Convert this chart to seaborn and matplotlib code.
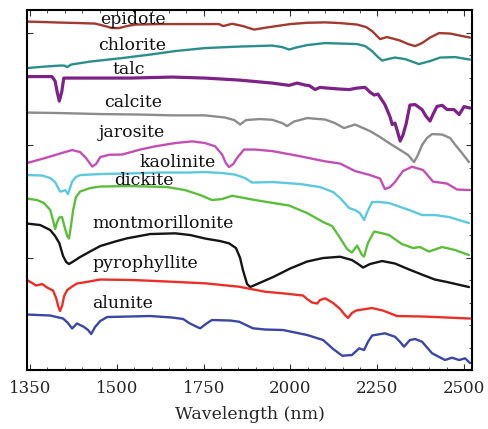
import matplotlib
matplotlib.use("Agg")
import matplotlib.pyplot as plt
import seaborn as sns
import pandas as pd
from matplotlib.ticker import MultipleLocator, FixedLocator

# ---------------- data (wavelength in nm, offset reflectance in arbitrary units) ----------------
epidote_wl = [1241, 1293, 1336, 1394, 1437, 1466, 1486, 1506, 1529, 1552, 1624, 1740, 1794, 1806, 1832,
              1863, 1895, 1921, 1950, 1999, 2048, 2100, 2143, 2192, 2218, 2235, 2258, 2278, 2295, 2316,
              2339, 2359, 2379, 2402, 2428, 2460, 2488, 2517]
epidote_r = [348.5, 348, 347.5, 347, 346.5, 344, 342, 342, 344, 345.5, 346, 346, 346, 344, 346.3,
             344, 340.5, 342, 343.5, 346, 347.3, 347.7, 347, 345.5, 343, 339, 331, 333, 331.5, 329.5,
             326, 324, 327, 332.5, 337, 336.5, 334.5, 332.5]

chlorite_wl = [1241, 1293, 1336, 1348, 1357, 1368, 1423, 1515, 1596, 1668, 1754, 1852, 1947, 1976, 1996,
               2016, 2048, 2100, 2192, 2215, 2235, 2252, 2264, 2281, 2301, 2330, 2370, 2402, 2431, 2474, 2517]
chlorite_r = [302, 303.5, 304.5, 304.5, 303, 305.5, 308.5, 312, 315.5, 319, 322, 323.5, 324.5, 323, 320.5,
              322.5, 325, 327, 326, 324, 319, 313, 309.5, 311, 312.5, 311, 306, 309, 312.5, 313, 310.5]

talc_wl = [1241, 1293, 1313, 1322, 1328, 1334, 1341, 1347, 1420, 1538, 1659, 1754, 1852, 1947, 1996,
           2019, 2042, 2054, 2071, 2085, 2105, 2143, 2169, 2192, 2215, 2229, 2241, 2252, 2272, 2287,
           2293, 2301, 2307, 2316, 2324, 2333, 2344, 2359, 2379, 2390, 2402, 2411, 2422, 2437, 2451,
           2471, 2486, 2500, 2517]
talc_r = [293.5, 293.5, 293.5, 289, 278, 269, 278, 292, 292, 292, 293, 292, 290, 287, 284.7,
          287, 285, 284.5, 280.5, 282.7, 282, 281, 280.5, 282, 282.7, 278, 275, 276, 265.5, 253,
          245.5, 247, 240, 229, 235, 246, 265, 265.5, 260.5, 254, 249, 256, 263.7, 264.7, 260.5,
          260.5, 255.5, 263.5, 262]

calcite_wl = [1241, 1336, 1452, 1567, 1659, 1754, 1812, 1838, 1855, 1872, 1912, 1947, 1976, 1990, 2010,
              2048, 2100, 2128, 2154, 2186, 2229, 2258, 2284, 2321, 2339, 2356, 2367, 2379, 2393, 2408,
              2437, 2460, 2474, 2494, 2514]
calcite_r = [257.5, 257, 256, 255.5, 254.7, 254.7, 252.5, 250, 245.5, 250, 251, 250.3, 247, 244, 248.5,
             252, 250.5, 247, 242, 245.5, 239, 233, 227, 219, 215, 208, 215, 225, 232, 236,
             235.5, 232, 225.5, 217, 208]

jarosite_wl = [1241, 1293, 1336, 1371, 1394, 1411, 1429, 1440, 1452, 1478, 1515, 1567, 1610, 1668, 1717,
               1754, 1783, 1803, 1814, 1823, 1835, 1846, 1866, 1898, 1947, 2025, 2100, 2143, 2186, 2229,
               2258, 2272, 2287, 2301, 2324, 2350, 2382, 2411, 2431, 2451, 2480, 2517]
jarosite_r = [207, 212, 216.5, 220, 218, 212, 203.5, 206, 213, 215.3, 215.5, 220.5, 223.7, 227, 228.7,
              227, 223.7, 215.5, 207, 203, 206, 212, 220.5, 220.5, 219, 214, 208.7, 206.5, 199, 195,
              191.5, 181, 183, 188, 199, 203.3, 200, 188.3, 187.5, 186.5, 180.5, 180]

kaolinite_wl = [1241, 1285, 1308, 1322, 1331, 1336, 1345, 1351, 1359, 1365, 1371, 1382, 1394, 1452, 1547,
                1624, 1702, 1754, 1803, 1840, 1869, 1889, 1950, 2028, 2085, 2123, 2143, 2169, 2186, 2200,
                2212, 2221, 2235, 2258, 2284, 2342, 2379, 2416, 2457, 2514]
kaolinite_r = [195, 194.5, 192, 188, 182, 178.5, 179, 180, 176, 182, 188.5, 193, 195, 196, 196.7,
               197.5, 197.5, 198, 197, 195.5, 192, 187.5, 188, 186, 183, 178, 172, 162, 160, 157,
               150, 158, 168, 168, 167, 160, 155, 155, 153, 147]

dickite_wl = [1241, 1270, 1290, 1308, 1316, 1322, 1328, 1334, 1342, 1351, 1357, 1362, 1368, 1374, 1382,
              1394, 1423, 1452, 1538, 1645, 1696, 1740, 1774, 1803, 1832, 1898, 1996, 2048, 2094, 2120,
              2143, 2163, 2177, 2192, 2206, 2212, 2223, 2241, 2261, 2284, 2321, 2353, 2373, 2399, 2437,
              2474, 2514]
dickite_r = [171.5, 170, 167, 160, 150, 141, 148, 152.5, 153, 141, 134, 131.5, 145, 160, 173,
             178.5, 182, 183.5, 184, 183, 180, 175, 170, 171, 174.3, 170, 164.5, 157, 148, 144,
             132, 121, 117.5, 124.5, 115, 113.5, 127, 138.5, 137, 135, 126, 122, 123, 118.5, 123,
             120, 115]

montmorillonite_wl = [1241, 1279, 1308, 1322, 1334, 1345, 1354, 1362, 1374, 1394, 1420, 1452, 1495, 1529,
                      1596, 1668, 1711, 1754, 1797, 1823, 1843, 1855, 1863, 1875, 1884, 1904, 1950, 1999,
                      2048, 2094, 2143, 2177, 2195, 2209, 2229, 2264, 2301, 2342, 2382, 2416, 2451, 2514]
montmorillonite_r = [146.5, 145, 140, 134, 127, 114, 108, 106, 108.5, 113, 118, 124, 128.5, 131.7,
                     136, 136.7, 135, 131.5, 129, 126.7, 122, 112, 100, 86, 83, 86, 93, 101.5,
                     108.5, 112, 113.3, 110, 106, 102.5, 106, 109, 106.5, 100.5, 95, 90.5, 88, 83]

pyrophyllite_wl = [1241, 1256, 1267, 1285, 1299, 1316, 1325, 1331, 1336, 1342, 1348, 1357, 1371, 1385, 1420,
                   1452, 1547, 1645, 1754, 1852, 1927, 1984, 2036, 2048, 2062, 2077, 2085, 2100, 2123, 2143,
                   2157, 2166, 2177, 2189, 2235, 2266, 2307, 2382, 2451, 2517]
pyrophyllite_r = [90, 87, 84.5, 86, 82.5, 79.5, 72, 64, 59, 64, 74, 80, 83.5, 86.5, 88.5,
                  90.5, 90, 88.5, 86.7, 83.3, 78.3, 76.5, 74.5, 71, 67.5, 66.5, 70, 71.7, 67, 61,
                  55, 52, 57, 59.5, 62, 59.5, 54, 53.5, 52.5, 51.5]

alunite_wl = [1241, 1308, 1345, 1359, 1371, 1385, 1403, 1417, 1426, 1437, 1452, 1472, 1596, 1659, 1691,
              1708, 1731, 1740, 1760, 1774, 1826, 1852, 1892, 1927, 1979, 2048, 2094, 2123, 2149, 2177,
              2198, 2212, 2223, 2235, 2272, 2301, 2316, 2327, 2344, 2359, 2379, 2408, 2445, 2465, 2486,
              2503, 2517]
alunite_r = [55.5, 54.5, 51.5, 47, 41.5, 46.5, 43.5, 40, 36, 43, 49, 53, 54, 52.5, 51,
             47, 43, 41.7, 47, 50, 49.5, 48.3, 41.7, 40.5, 40, 35, 30, 21, 14.3, 15,
             21.7, 20, 28, 34.5, 36.7, 33.3, 28, 23.3, 30, 31, 28.3, 16.7, 10, 12.3, 10,
             11.7, 7]

minerals = ["epidote", "chlorite", "talc", "calcite", "jarosite", "kaolinite",
            "dickite", "montmorillonite", "pyrophyllite", "alunite"]

# label anchor (x centre in nm, baseline in reflectance units)
label_x = [1545, 1544, 1534, 1547, 1542, 1675, 1578, 1632, 1583, 1516]
label_y = [346, 320, 296.5, 263.5, 233, 203, 185.5, 142.5, 102.5, 62.5]

x_tick_pos = [1250, 1500, 1750, 2000, 2250, 2500]
x_tick_labels = ["1350", "1500", "1750", "2000", "2250", "2500"]

colors = {
    "epidote": "#a23a2f",
    "chlorite": "#2a8f8c",
    "talc": "#7d2287",
    "calcite": "#8c8c8c",
    "jarosite": "#c34fb4",
    "kaolinite": "#5cc9de",
    "dickite": "#5cbe3b",
    "montmorillonite": "#151515",
    "pyrophyllite": "#ea2f28",
    "alunite": "#3a47a6",
}
widths = {m: 1.7 for m in minerals}
widths["talc"] = 2.3

series = {
    "epidote": (epidote_wl, epidote_r),
    "chlorite": (chlorite_wl, chlorite_r),
    "talc": (talc_wl, talc_r),
    "calcite": (calcite_wl, calcite_r),
    "jarosite": (jarosite_wl, jarosite_r),
    "kaolinite": (kaolinite_wl, kaolinite_r),
    "dickite": (dickite_wl, dickite_r),
    "montmorillonite": (montmorillonite_wl, montmorillonite_r),
    "pyrophyllite": (pyrophyllite_wl, pyrophyllite_r),
    "alunite": (alunite_wl, alunite_r),
}

frames = []
for m in minerals:
    wl, r = series[m]
    frames.append(pd.DataFrame({"wavelength": wl, "reflectance": r, "mineral": m}))
df = pd.concat(frames, ignore_index=True)

# ---------------- plotting ----------------
sns.set_theme(style="ticks")
plt.rcParams["font.family"] = ["DejaVu Serif"]
plt.rcParams["mathtext.fontset"] = "dejavuserif"

fig = plt.figure(figsize=(4.88, 4.29), dpi=100)
ax = fig.add_axes([0.0553, 0.1375, 0.912, 0.839])

for m in minerals:
    sub = df[df["mineral"] == m]
    sns.lineplot(data=sub, x="wavelength", y="reflectance", ax=ax, color=colors[m],
                 linewidth=widths[m], sort=False, estimator=None, legend=False)

for m, lx, ly in zip(minerals, label_x, label_y):
    ax.text(lx, ly, m, ha="center", va="baseline", fontsize=12.5, color="#111111",
            family="DejaVu Serif")

ax.set_xlim(1241, 2523)
ax.set_ylim(0, 360)
ax.xaxis.set_major_locator(FixedLocator(x_tick_pos))
ax.set_xticklabels(x_tick_labels)
ax.xaxis.set_minor_locator(MultipleLocator(50))
ax.yaxis.set_major_locator(MultipleLocator(112.5))
ax.yaxis.set_minor_locator(MultipleLocator(22.5))
ax.set_yticklabels([])
ax.tick_params(axis="both", which="both", direction="in", top=True, right=True, color="#333333")
ax.tick_params(axis="both", which="major", length=4, width=0.8, labelsize=12, pad=7)
ax.tick_params(axis="both", which="minor", length=2.5, width=0.6)
ax.tick_params(axis="y", which="minor", left=False, right=True)
ax.set_xlabel("Wavelength (nm)", fontsize=12.5, labelpad=7)
ax.set_ylabel("")
for s in ax.spines.values():
    s.set_linewidth(1.5)
    s.set_color("black")

fig.savefig("out.png", dpi=100)
